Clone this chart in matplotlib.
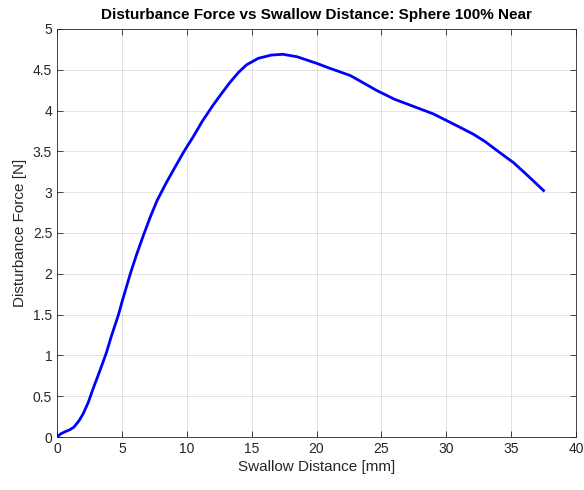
import matplotlib
matplotlib.use("Agg")
import matplotlib.pyplot as plt

swallow_distance_mm = [0.0, 0.3, 0.7, 1.0, 1.3, 1.7, 2.0, 2.4, 2.8, 3.3, 3.8, 4.2, 4.74, 5.0,
                       5.65, 6.1, 6.68, 7.2, 7.72, 8.37, 9.0, 9.79, 10.5, 11.2, 12.0, 12.64,
                       13.3, 14.0, 14.6, 15.5, 16.5, 17.4, 18.5, 20.0, 21.0, 22.6, 23.5,
                       24.6, 26.0, 27.5, 29.0, 30.0, 31.0, 32.1, 33.0, 34.0, 35.2, 36.3, 37.5]
disturbance_force_n = [0.0, 0.04, 0.07, 0.09, 0.12, 0.2, 0.28, 0.42, 0.6, 0.81, 1.03, 1.24,
                       1.5, 1.65, 2.0, 2.22, 2.48, 2.7, 2.9, 3.1, 3.28, 3.5, 3.68, 3.87, 4.06,
                       4.2, 4.34, 4.47, 4.56, 4.64, 4.68, 4.69, 4.66, 4.58, 4.52, 4.43, 4.35,
                       4.25, 4.14, 4.05, 3.96, 3.88, 3.8, 3.71, 3.62, 3.5, 3.36, 3.2, 3.02]

plt.rcParams['font.family'] = ['Liberation Sans', 'DejaVu Sans']

fig = plt.figure(figsize=(5.84, 4.9), dpi=100)
ax = fig.add_axes([57/584, 53/490, 519/584, 408/490])

ax.plot(swallow_distance_mm, disturbance_force_n, color='#0000ff', linewidth=2.0)

ax.set_xlim(0, 40)
ax.set_ylim(0, 5)
ax.set_xticks(range(0, 41, 5))
ax.set_yticks([0, 0.5, 1, 1.5, 2, 2.5, 3, 3.5, 4, 4.5, 5])
ax.set_yticklabels(['0', '0.5', '1', '1.5', '2', '2.5', '3', '3.5', '4', '4.5', '5'])
ax.grid(True, color='#262626', alpha=0.15, linewidth=0.6)
ax.tick_params(direction='in', length=4, width=0.6, colors='#262626', labelsize=10,
               top=True, right=True, labeltop=False, labelright=False)
for s in ax.spines.values():
    s.set_color('#262626')
    s.set_linewidth(0.6)

ax.set_xlabel('Swallow Distance [mm]', fontsize=11, color='#262626', labelpad=3)
ax.set_ylabel('Disturbance Force [N]', fontsize=11, color='#262626', labelpad=4)
ax.set_title('Disturbance Force vs Swallow Distance: Sphere 100% Near', fontsize=11,
             fontweight='bold', color='black', pad=7)

fig.savefig('out.png', dpi=100)
